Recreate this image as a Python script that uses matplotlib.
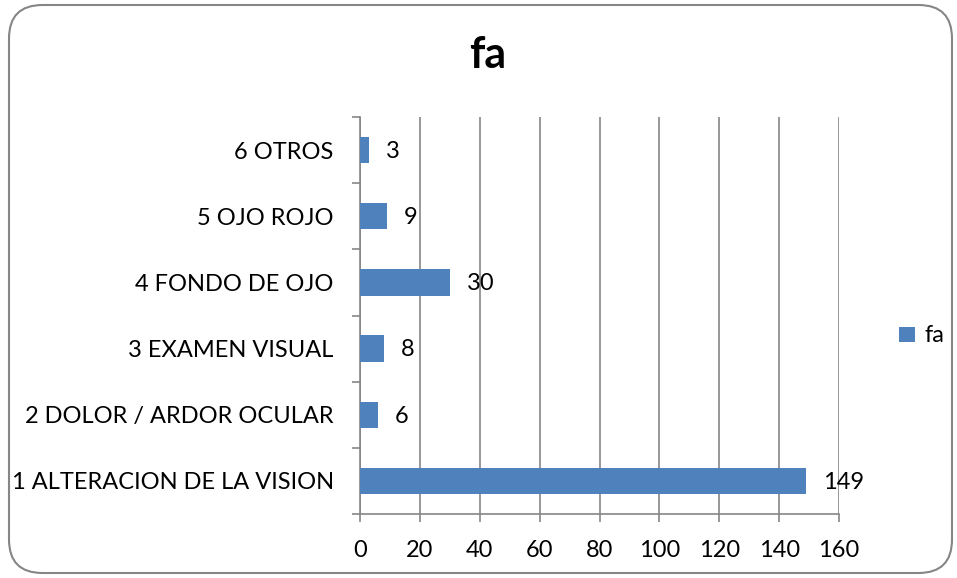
import matplotlib.pyplot as plt
from matplotlib.patches import FancyBboxPatch
import numpy as np

categories = ['1 ALTERACION DE LA VISION', '2 DOLOR / ARDOR OCULAR', '3 EXAMEN VISUAL',
              '4 FONDO DE OJO', '5 OJO ROJO', '6 OTROS']
values = [149, 6, 8, 30, 9, 3]
xticks = [0, 20, 40, 60, 80, 100, 120, 140, 160]

plt.rcParams['font.family'] = ['Lato', 'DejaVu Sans']

fig = plt.figure(figsize=(9.57, 5.78), dpi=100)

# rounded chart border, kept behind the axes
border = FancyBboxPatch((9/957, 5/578), 943/957, 568/578,
                        boxstyle='round,pad=0,rounding_size=0.035',
                        transform=fig.transFigure, facecolor='white',
                        edgecolor='#868686', linewidth=1.5, mutation_aspect=957/578,
                        zorder=-5)
fig.patches.append(border)

ax = fig.add_axes([0.3762, 0.1107, 0.5005, 0.6869])
ax.set_facecolor('none')

y = np.arange(len(categories))
bars = ax.barh(y, values, height=0.4, color='#4F81BD', label='fa', zorder=3)

for yi, v in zip(y, values):
    ax.annotate(str(v), (v, yi), xytext=(12, -1), textcoords='offset points',
                va='center', ha='left', fontsize=17, color='black')

ax.set_xlim(0, 160)
ax.set_ylim(-0.5, len(categories) - 0.5)
ax.set_xticks(xticks)
ax.set_xticklabels([str(t) for t in xticks], fontsize=17)
ax.set_yticks(y)
ax.set_yticklabels(categories, fontsize=17)
ax.tick_params(axis='y', which='major', length=0, pad=19)
ax.set_yticks(np.arange(-0.5, len(categories)), minor=True)
ax.tick_params(axis='y', which='minor', length=6, color='#868686', width=1.2)
ax.tick_params(axis='x', length=6, color='#868686', width=1.2, pad=13)

ax.grid(axis='x', color='#868686', linewidth=1.2, zorder=0)
for side in ['top', 'right']:
    ax.spines[side].set_visible(False)
for side in ['left', 'bottom']:
    ax.spines[side].set_color('#868686')
    ax.spines[side].set_linewidth(1.2)

fig.text(488/957, 1 - 55/578, 'fa', ha='center', va='center', fontsize=31, fontweight='bold')

fig.legend(handles=[bars], labels=['fa'], loc='center left', bbox_to_anchor=(899/957, 1 - 336/578),
           frameon=False, fontsize=17, handlelength=0.68, handleheight=0.62, handletextpad=0.4,
           borderpad=0, borderaxespad=0)

fig.savefig('out.png', dpi=100)
